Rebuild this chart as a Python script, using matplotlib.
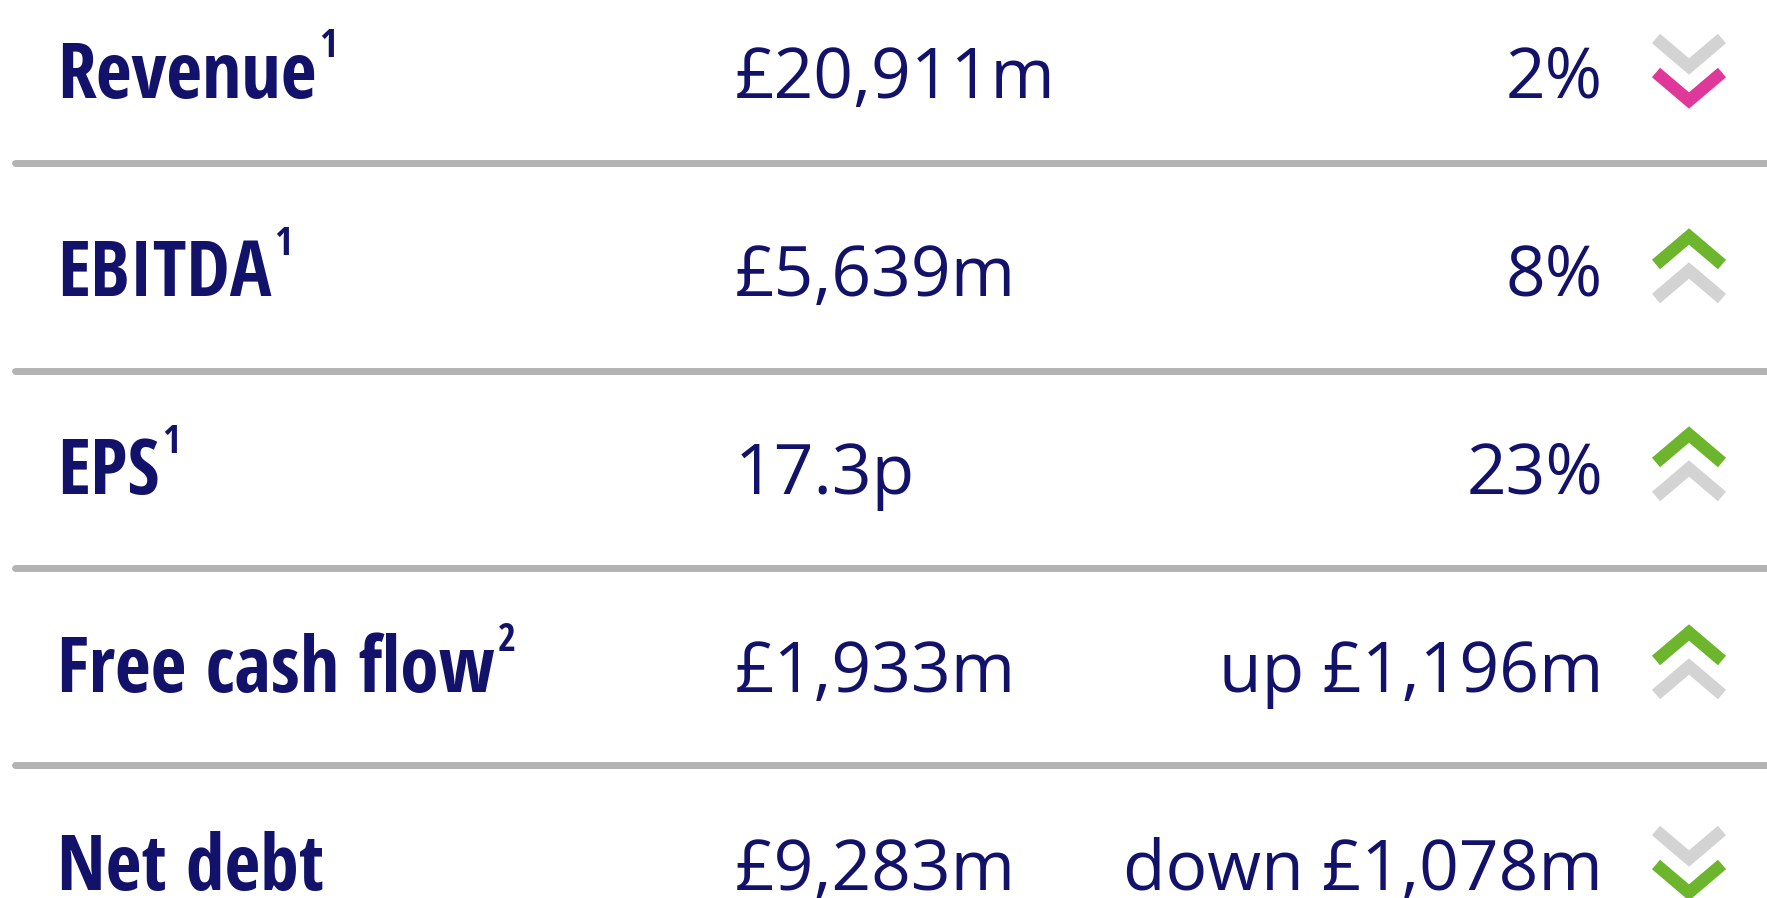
import matplotlib.pyplot as plt
from matplotlib import font_manager

# KPI rows
labels = ['Revenue', 'EBITDA', 'EPS', 'Free cash flow', 'Net debt']
notes = ['1', '1', '1', '2', '']
values = ['£20,911m', '£5,639m', '17.3p', '£1,933m', '£9,283m']
changes = ['2%', '8%', '23%', 'up £1,196m', 'down £1,078m']
direction = ['down', 'up', 'up', 'up', 'down']
favourable = [False, True, True, True, True]

navy = '#12126b'
pink = '#e0389a'
green = '#6cb52d'
light = '#d3d3d3'
rule = '#b3b3b3'

W, H = 1767, 898
fig = plt.figure(figsize=(W / 100, H / 100), dpi=100)
ax = fig.add_axes([0, 0, 1, 1])
ax.set_xlim(0, W)
ax.set_ylim(H, 0)
ax.axis('off')
renderer = fig.canvas.get_renderer()

# the labels use a narrow bold sans: try the plain sans families we have and keep
# the bold face whose "Free cash flow" comes closest to the original (~440px)
plain = ('Noto Sans', 'Open Sans', 'Roboto', 'Lato', 'Inter', 'Liberation Sans',
         'DejaVu Sans')
target = 440
best, best_err = None, None
for f in font_manager.fontManager.ttflist:
    fam = f.name.replace(' Condensed', '').replace(' SemiCondensed', '') \
        .replace(' ExtraCondensed', '').replace(' Narrow', '')
    if fam not in plain:
        continue
    if f.weight not in ('bold', 'semibold', 'demibold', 600, 700):
        continue
    if f.style != 'normal':
        continue
    fp = font_manager.FontProperties(fname=f.fname, size=56)
    t = ax.text(0, 0, 'Free cash flow', fontproperties=fp)
    w = t.get_window_extent(renderer).width
    t.remove()
    err = abs(w - target)
    if best_err is None or err < best_err:
        best, best_err = f.fname, err

label_fp = font_manager.FontProperties(fname=best, size=56)
note_fp = font_manager.FontProperties(fname=best, size=28)

first_base = 98
step = 198
rule_y = [163, 371, 568, 765]
cap = 57
x_label = 57
x_value = 735
x_change = 1603
x_chev = 1689
hw, dh, gap = 33, 14, 17

for i, lab in enumerate(labels):
    base = first_base + step * i
    mid = base - cap / 2
    t = ax.text(x_label, base, lab, color=navy, va='baseline', ha='left',
                fontproperties=label_fp)
    if notes[i]:
        bb = t.get_window_extent(renderer).transformed(ax.transData.inverted())
        ax.text(bb.x1 + 3, base - cap - 14, notes[i], color=navy,
                va='top', ha='left', fontproperties=note_fp)
    ax.text(x_value, base, values[i], fontsize=50, color=navy, family='Open Sans',
            va='baseline', ha='left')
    ax.text(x_change, base, changes[i], fontsize=50, color=navy, family='Open Sans',
            va='baseline', ha='right')

    col = green if favourable[i] else pink
    if direction[i] == 'down':
        pairs = [(mid - gap, light), (mid + gap, col)]
        sgn = 1
    else:
        pairs = [(mid - gap, col), (mid + gap, light)]
        sgn = -1
    for cy, c in pairs:
        ax.plot([x_chev - hw, x_chev, x_chev + hw],
                [cy - sgn * dh, cy + sgn * dh, cy - sgn * dh],
                color=c, lw=9, solid_capstyle='butt', solid_joinstyle='miter')

for y in rule_y:
    ax.plot([15, W + 10], [y, y], color=rule, lw=5, solid_capstyle='round')

fig.savefig('out.png', dpi=100, facecolor='white')
